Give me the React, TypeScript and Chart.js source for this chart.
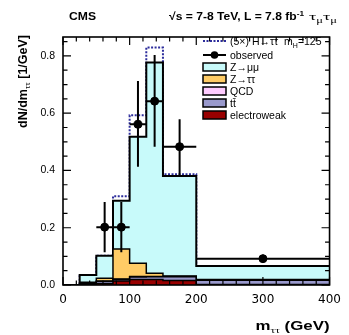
import React, { useEffect, useRef } from "react";
import { Chart, registerables } from "chart.js";

Chart.register(...registerables);

// ---- data ----
const binEdges = [0, 25, 50, 75, 100, 125, 150, 200, 400];
const electroweak = [0, 0.002, 0.004, 0.014, 0.019, 0.019, 0.016, 0.002];
const ttbar = [0, 0.003, 0.008, 0.005, 0.009, 0.01, 0.013, 0.015];
const qcd = [0, 0.001, 0.002, 0.002, 0.002, 0.001, 0.001, 0.001];
const zTauTau = [0, 0.004, 0.01, 0.105, 0.046, 0.011, 0.001, 0.001];
const zMuMu = [0, 0.025, 0.078, 0.168, 0.442, 0.736, 0.35, 0.047];
const signal5x = [0, 0, 0, 0.016, 0.075, 0.052, 0.006, 0];

const obsX = [62.5, 87.5, 112.5, 137.5, 175, 300];
const obsXHalf = [12.5, 12.5, 12.5, 12.5, 25, 100];
const obsY = [0.202, 0.202, 0.561, 0.642, 0.483, 0.092];
const obsErrLo = [0.088, 0.088, 0.148, 0.159, 0.105, 0.014];
const obsErrHi = [0.088, 0.088, 0.151, 0.161, 0.096, 0.014];

const xTicks = [0, 100, 200, 300, 400];
const yTicks = [0, 0.2, 0.4, 0.6, 0.8];
const xMinorStep = 20;
const yMinorStep = 0.05;
const yMax = 0.866;

const colors = {
  zmm: "#c8fafa",
  ztt: "#ffcc66",
  qcd: "#ffccff",
  tt: "#9999cc",
  ew: "#990000",
  sig: "#2d2d9c",
};

// ---- helpers ----
function cumulative(...arrs: number[][]) {
  return arrs[0].map((_, i) => arrs.reduce((s, a) => s + a[i], 0));
}
function stepPoints(vals: number[]) {
  return binEdges.map((e, i) => ({ x: e, y: i < vals.length ? vals[i] : vals[vals.length - 1] }));
}

type Run = { t: string; font: string; dy?: number };
function runsWidth(ctx: CanvasRenderingContext2D, runs: Run[]) {
  let w = 0;
  for (const r of runs) {
    ctx.font = r.font;
    w += ctx.measureText(r.t).width;
  }
  return w;
}
function drawRuns(
  ctx: CanvasRenderingContext2D,
  runs: Run[],
  x: number,
  y: number,
  align: "left" | "right",
  target?: number
) {
  const nat = runsWidth(ctx, runs);
  const sx = target ? target / nat : 1;
  ctx.save();
  ctx.translate(align === "left" ? x : x - nat * sx, y);
  ctx.scale(sx, 1);
  ctx.textAlign = "left";
  ctx.textBaseline = "alphabetic";
  ctx.fillStyle = "#000";
  let cx = 0;
  for (const r of runs) {
    ctx.font = r.font;
    ctx.fillText(r.t, cx, r.dy || 0);
    cx += ctx.measureText(r.t).width;
  }
  ctx.restore();
}

const SANS = "'Liberation Sans', Arial, sans-serif";
const SERIF = "'Liberation Serif', serif";

const decorPlugin = {
  id: "decor",
  beforeDatasetDraw(chart: any, args: any) {
    if (args.meta.label !== "observed") return;
    const ctx = chart.ctx;
    const xs = chart.scales.x;
    const ys = chart.scales.y;
    ctx.save();
    ctx.strokeStyle = "#000";
    ctx.lineWidth = 2;
    for (let i = 0; i < obsX.length; i++) {
      const px = xs.getPixelForValue(obsX[i]);
      const py = ys.getPixelForValue(obsY[i]);
      ctx.beginPath();
      ctx.moveTo(xs.getPixelForValue(obsX[i] - obsXHalf[i]), py);
      ctx.lineTo(xs.getPixelForValue(obsX[i] + obsXHalf[i]), py);
      ctx.moveTo(px, ys.getPixelForValue(obsY[i] - obsErrLo[i]));
      ctx.lineTo(px, ys.getPixelForValue(obsY[i] + obsErrHi[i]));
      ctx.stroke();
    }
    ctx.restore();
  },
  afterDatasetsDraw(chart: any) {
    const ctx = chart.ctx;
    const xs = chart.scales.x;
    const ys = chart.scales.y;
    const { left, right, top, bottom } = chart.chartArea;
    ctx.save();
    ctx.strokeStyle = "#000";
    ctx.lineWidth = 1.2;
    ctx.beginPath();
    const nx = Math.round((xs.max - xs.min) / xMinorStep);
    for (let i = 0; i <= nx; i++) {
      const v = xs.min + i * xMinorStep;
      const major = xTicks.includes(v);
      const len = major ? 8 : 4.5;
      const px = xs.getPixelForValue(v);
      ctx.moveTo(px, bottom);
      ctx.lineTo(px, bottom - len);
      ctx.moveTo(px, top);
      ctx.lineTo(px, top + len);
    }
    const ny = Math.floor(yMax / yMinorStep + 1e-6);
    for (let i = 0; i <= ny; i++) {
      const v = i * yMinorStep;
      const major = i % 4 === 0;
      const len = major ? 8 : 4.5;
      const py = ys.getPixelForValue(v);
      ctx.moveTo(left, py);
      ctx.lineTo(left + len, py);
      ctx.moveTo(right, py);
      ctx.lineTo(right - len, py);
    }
    ctx.stroke();
    ctx.lineWidth = 1.6;
    ctx.strokeRect(left, top, right - left, bottom - top);
    ctx.restore();
  },
  afterDraw(chart: any) {
    const ctx = chart.ctx;
    const { right, top } = chart.chartArea;
    ctx.save();
    // Title
    drawRuns(ctx, [{ t: "CMS", font: `bold 11.5px ${SANS}` }], 69, 20, "left", 27);
    drawRuns(
      ctx,
      [
        { t: "\u221As = 7-8 TeV, L = 7.8 fb", font: `bold 11px ${SANS}` },
        { t: "-1", font: `bold 7.5px ${SANS}`, dy: -4.5 },
      ],
      169,
      20,
      "left",
      135
    );
    drawRuns(
      ctx,
      [
        { t: "\u03C4", font: `11px ${SERIF}` },
        { t: "\u03BC", font: `7.5px ${SERIF}`, dy: 2.5 },
        { t: "\u03C4", font: `11px ${SERIF}` },
        { t: "\u03BC", font: `7.5px ${SERIF}`, dy: 2.5 },
      ],
      309,
      20,
      "left",
      28
    );
    // x title
    drawRuns(
      ctx,
      [
        { t: "m", font: `bold 13px ${SANS}` },
        { t: "\u03C4\u03C4", font: `9px ${SERIF}`, dy: 3 },
        { t: " (GeV)", font: `bold 13px ${SANS}` },
      ],
      right,
      330,
      "right",
      74
    );
    // y title
    ctx.save();
    ctx.translate(27, top - 2);
    ctx.rotate(-Math.PI / 2);
    drawRuns(
      ctx,
      [
        { t: "dN/dm", font: `bold 12.5px ${SANS}` },
        { t: "\u03C4\u03C4", font: `8.5px ${SERIF}`, dy: 3 },
        { t: " [1/GeV]", font: `bold 12.5px ${SANS}` },
      ],
      0,
      0,
      "right"
    );
    ctx.restore();

    // Legend
    const lx0 = 203;
    const lx1 = 226;
    const tx = 230;
    const legFont = `10.5px ${SANS}`;
    let y = 41;
    ctx.strokeStyle = colors.sig;
    ctx.lineWidth = 2;
    ctx.setLineDash([2, 1.5]);
    ctx.beginPath();
    ctx.moveTo(lx0, y);
    ctx.lineTo(lx1, y);
    ctx.stroke();
    ctx.setLineDash([]);
    drawRuns(
      ctx,
      [
        { t: "(5\u00D7) H\u2192\u03C4\u03C4  m", font: legFont },
        { t: "H", font: `7px ${SANS}`, dy: 2.5 },
        { t: "=125", font: legFont },
      ],
      tx,
      y + 4,
      "left"
    );
    y = 55;
    ctx.strokeStyle = "#000";
    ctx.lineWidth = 2;
    ctx.beginPath();
    ctx.moveTo(lx0, y);
    ctx.lineTo(lx1, y);
    ctx.stroke();
    ctx.fillStyle = "#000";
    ctx.beginPath();
    ctx.arc((lx0 + lx1) / 2, y, 3.8, 0, Math.PI * 2);
    ctx.fill();
    drawRuns(ctx, [{ t: "observed", font: legFont }], tx, y + 4, "left");
    const boxes: [string, string][] = [
      ["Z\u2192\u03BC\u03BC", colors.zmm],
      ["Z\u2192\u03C4\u03C4", colors.ztt],
      ["QCD", colors.qcd],
      ["t\u0074\u0304", colors.tt],
      ["electroweak", colors.ew],
    ];
    boxes.forEach(([lab, col], i) => {
      const yy = 67 + i * 12;
      ctx.fillStyle = col;
      ctx.fillRect(lx0, yy - 4, lx1 - lx0, 8);
      ctx.strokeStyle = "#000";
      ctx.lineWidth = 1.5;
      ctx.strokeRect(lx0, yy - 4, lx1 - lx0, 8);
      drawRuns(ctx, [{ t: lab, font: legFont }], tx, yy + 4, "left");
    });
    ctx.restore();
  },
};

export default function App() {
  const ref = useRef<HTMLCanvasElement | null>(null);
  useEffect(() => {
    if (!ref.current) return;
    const cEW = electroweak;
    const cTT = cumulative(electroweak, ttbar);
    const cQCD = cumulative(electroweak, ttbar, qcd);
    const cZTT = cumulative(electroweak, ttbar, qcd, zTauTau);
    const cZMM = cumulative(electroweak, ttbar, qcd, zTauTau, zMuMu);
    const cSig = cumulative(cZMM, signal5x);
    const common = {
      stepped: "before" as const,
      pointRadius: 0,
      borderColor: "#000",
      borderWidth: 1.5,
      tension: 0,
    };
    const chart = new Chart(ref.current, {
      type: "line",
      data: {
        datasets: [
          { ...common, label: "electroweak", data: stepPoints(cEW), fill: "origin", backgroundColor: colors.ew },
          { ...common, label: "tt", data: stepPoints(cTT), fill: "-1", backgroundColor: colors.tt },
          { ...common, label: "QCD", data: stepPoints(cQCD), fill: "-1", backgroundColor: colors.qcd },
          { ...common, label: "Ztt", data: stepPoints(cZTT), fill: "-1", backgroundColor: colors.ztt },
          { ...common, label: "Zmm", data: stepPoints(cZMM), fill: "-1", backgroundColor: colors.zmm, borderWidth: 2 },
          {
            ...common,
            label: "signal",
            data: stepPoints(cSig),
            fill: false,
            borderColor: colors.sig,
            borderWidth: 2,
            borderDash: [2, 1.5],
          },
          {
            type: "scatter",
            label: "observed",
            data: obsX.map((x, i) => ({ x, y: obsY[i] })),
            pointRadius: 4,
            pointBackgroundColor: "#000",
            pointBorderColor: "#000",
            showLine: false,
            order: -1,
          } as any,
        ],
      },
      options: {
        animation: false,
        responsive: false,
        devicePixelRatio: 1,
        layout: { padding: { top: 37, right: 17, left: 0, bottom: 0 } },
        plugins: { legend: { display: false }, tooltip: { enabled: false } },
        scales: {
          x: {
            type: "linear",
            min: 0,
            max: 400,
            afterFit: (s: any) => {
              s.height = 50;
            },
            afterBuildTicks: (s: any) => {
              s.ticks = xTicks.map((v) => ({ value: v }));
            },
            grid: { display: false, drawTicks: false },
            border: { display: false },
            ticks: {
              padding: 8,
              color: "#000",
              maxRotation: 0,
              autoSkip: false,
              font: { family: "'DejaVu Sans'", size: 12 },
            },
          },
          y: {
            type: "linear",
            min: 0,
            max: yMax,
            afterFit: (s: any) => {
              s.width = 63;
            },
            afterBuildTicks: (s: any) => {
              s.ticks = yTicks.map((v) => ({ value: v }));
            },
            grid: { display: false, drawTicks: false },
            border: { display: false },
            ticks: {
              padding: 8,
              color: "#000",
              callback: (v: any) => Number(v).toFixed(1),
              font: { family: "'Liberation Sans'", size: 10.5 },
            },
          },
        },
      } as any,
      plugins: [decorPlugin],
    });
    return () => chart.destroy();
  }, []);
  return (
    <div style={{ position: "fixed", left: 0, top: 0, width: 349, height: 335, background: "#fff" }}>
      <canvas ref={ref} width={349} height={335} style={{ width: 349, height: 335, display: "block" }} />
    </div>
  );
}
